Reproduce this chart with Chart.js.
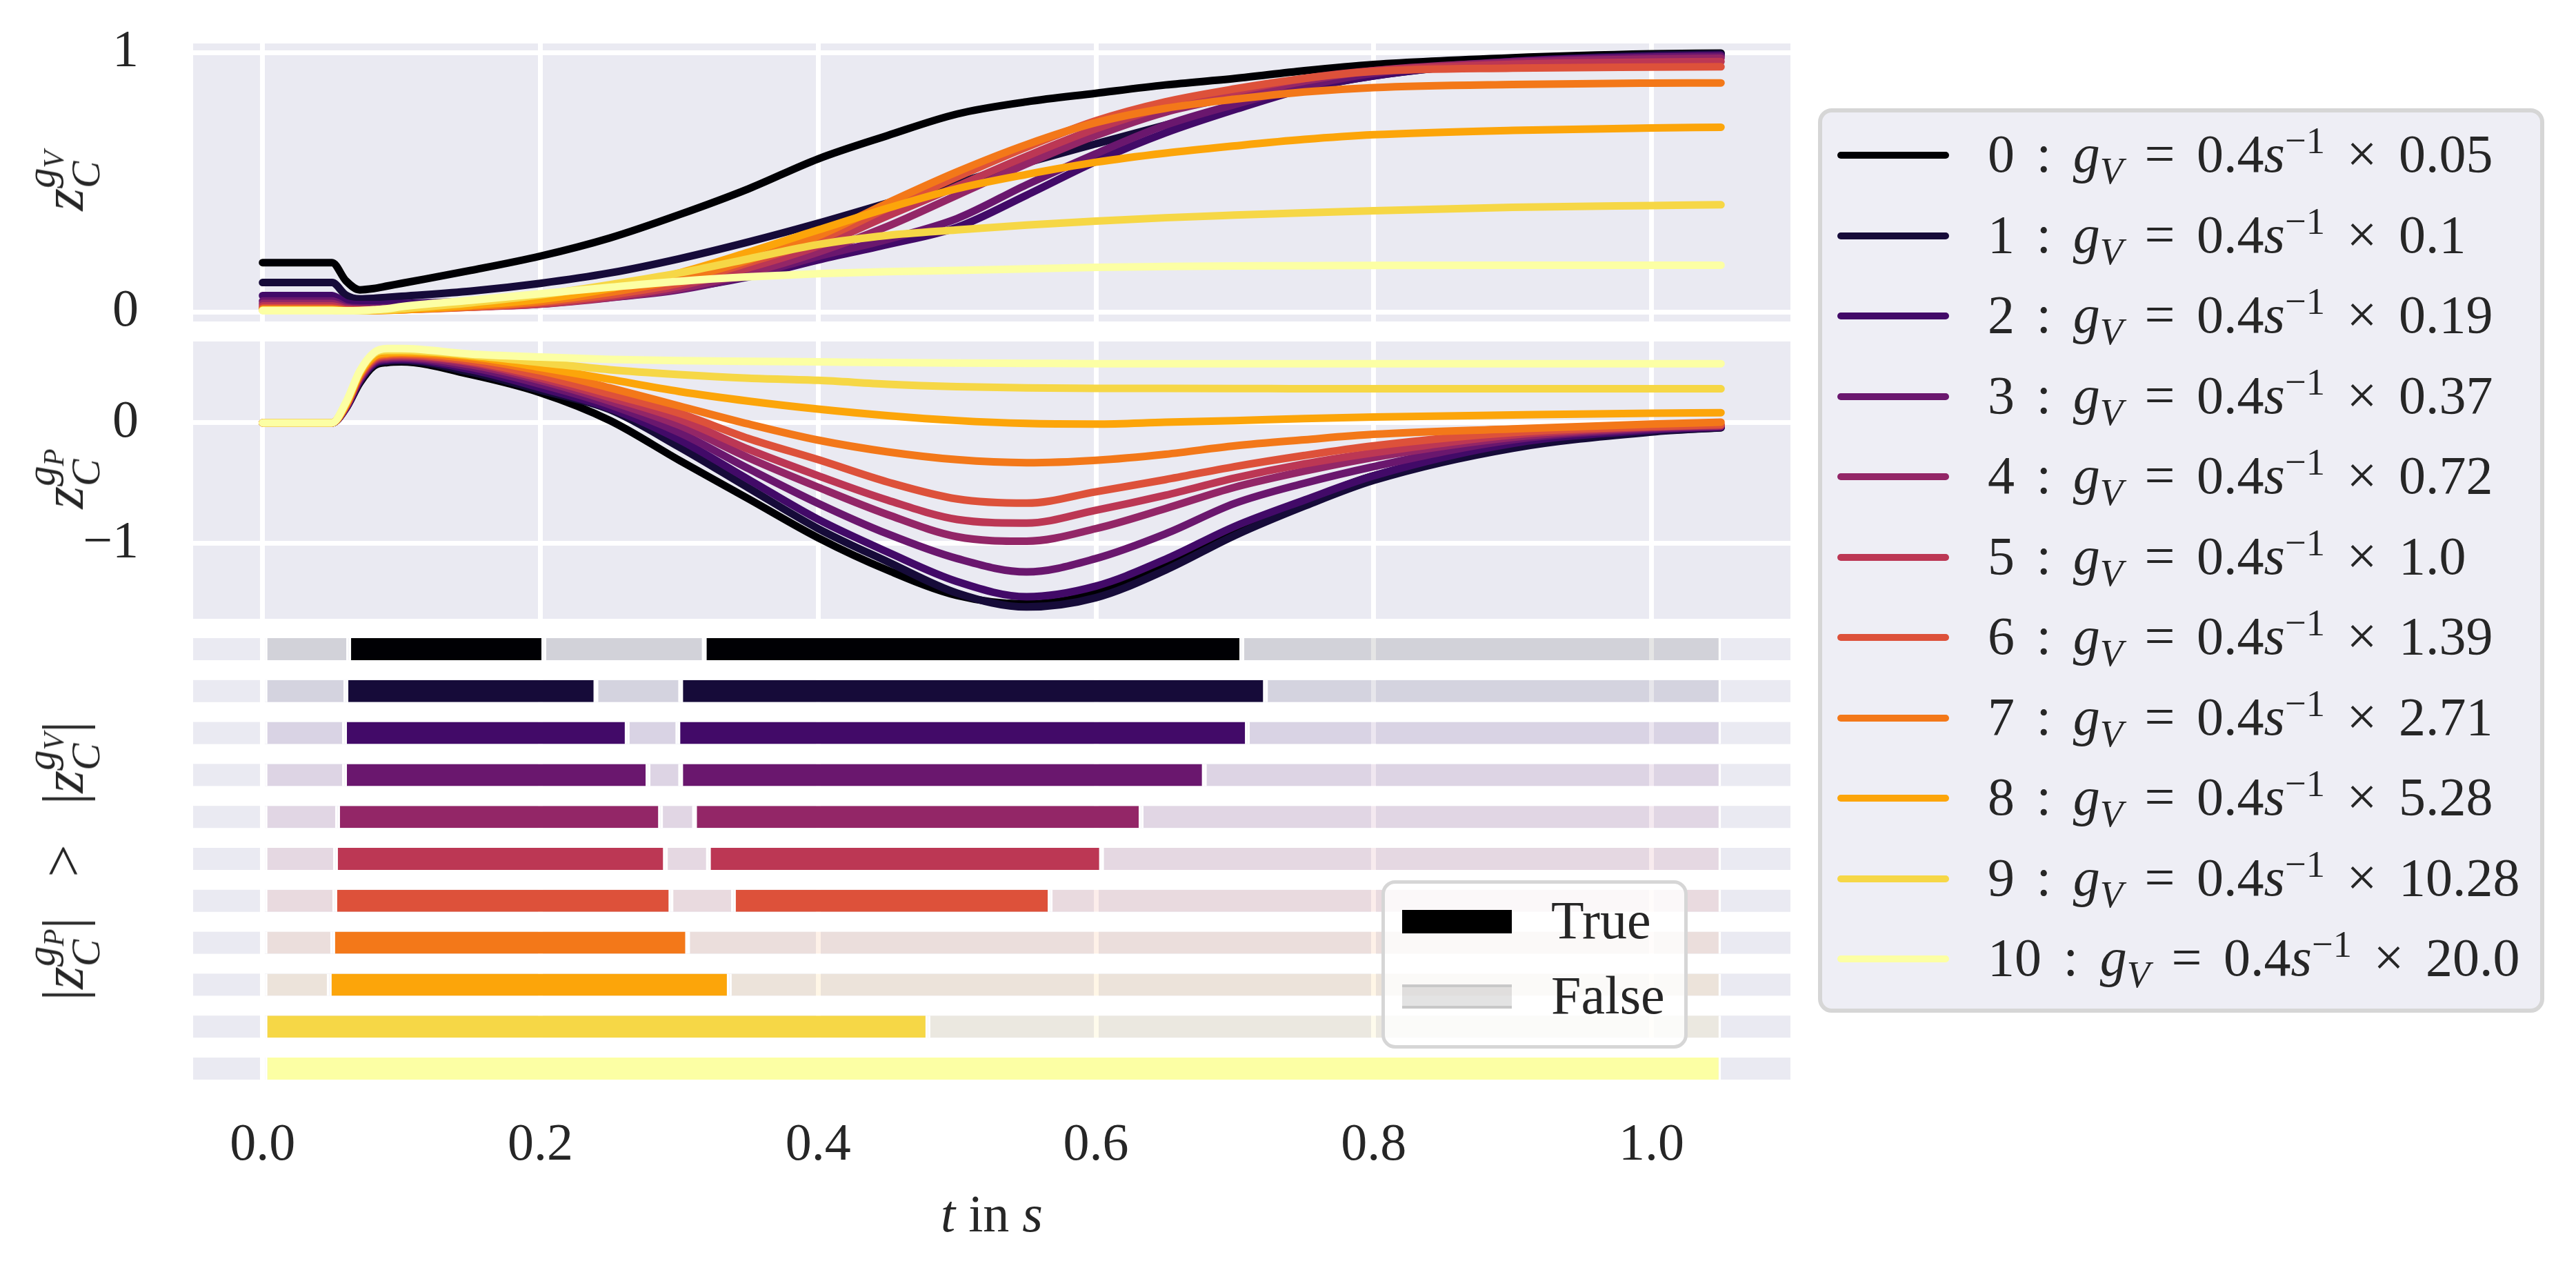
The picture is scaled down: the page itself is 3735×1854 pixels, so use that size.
<!DOCTYPE html>
<html lang="en">
<head>
<meta charset="UTF-8">
<title>z_C trajectories</title>
<script src="https://cdn.jsdelivr.net/npm/chart.js@4.4.1/dist/chart.umd.min.js"></script>
<style>
  html, body { margin:0; padding:0; background:#fff; }
  body { position:relative; width:3735px; height:1854px; overflow:hidden;
         font-family:"Liberation Serif", "DejaVu Serif", serif; color:#262626; }
  canvas { position:absolute; left:0; top:0; }
  .txt { position:absolute; white-space:nowrap; font-size:78px; line-height:84px; z-index:5; }
  .txt sub, .txt sup { line-height:0; font-size:0.7em; }
  .lab { font-size:84px; line-height:90px; }
  .rot { transform:translate(-50%,-50%) rotate(-90deg); }
  .scr { display:inline-block; vertical-align:-24px; font-size:0.7em; line-height:65px; text-align:left; }
  .scr > span { display:block; }
  .rel { margin:0 58px; }
  .box { position:absolute; box-sizing:border-box; border-radius:20px; z-index:4; }
  .swatch { position:absolute; z-index:5; }
</style>
</head>
<body>
<canvas id="cV" width="3735" height="1854"></canvas>
<canvas id="cP" width="3735" height="1854"></canvas>
<canvas id="cB" width="3735" height="1854"></canvas>

<script>
// sample times (s)
const T = [0, 0.05, 0.06, 0.07, 0.08, 0.09, 0.1, 0.15, 0.2, 0.25, 0.3, 0.35, 0.4, 0.45, 0.5, 0.55, 0.6, 0.65, 0.7, 0.75, 0.8, 0.9, 1.0, 1.05];

// z_C^{g_V}, one row per gain
const zV = [
  [0.19,0.19,0.12,0.085,0.09,0.1,0.11,0.16,0.215,0.285,0.375,0.475,0.59,0.68,0.763,0.81,0.843,0.875,0.9,0.93,0.954,0.98,0.995,0.998],
  [0.113,0.113,0.065,0.05,0.052,0.056,0.06,0.08,0.11,0.15,0.205,0.27,0.342,0.42,0.497,0.575,0.648,0.72,0.79,0.86,0.91,0.965,0.99,0.995],
  [0.063,0.063,0.035,0.028,0.028,0.03,0.032,0.04,0.05,0.065,0.09,0.135,0.2,0.26,0.326,0.45,0.58,0.69,0.78,0.86,0.91,0.965,0.985,0.99],
  [0.042,0.042,0.02,0.015,0.015,0.016,0.018,0.025,0.035,0.055,0.085,0.14,0.214,0.28,0.36,0.49,0.61,0.72,0.8,0.87,0.92,0.965,0.982,0.985],
  [0.032,0.032,0.015,0.01,0.01,0.011,0.012,0.02,0.03,0.055,0.09,0.15,0.23,0.33,0.45,0.57,0.68,0.77,0.83,0.89,0.93,0.962,0.975,0.978],
  [0.023,0.023,0.01,0.008,0.008,0.009,0.01,0.018,0.03,0.058,0.1,0.17,0.254,0.37,0.484,0.6,0.706,0.79,0.85,0.9,0.93,0.955,0.963,0.965],
  [0.015,0.015,0.007,0.006,0.006,0.007,0.008,0.018,0.035,0.065,0.11,0.19,0.276,0.4,0.52,0.635,0.737,0.81,0.86,0.9,0.927,0.94,0.944,0.945],
  [0.01,0.01,0.005,0.005,0.005,0.006,0.008,0.02,0.04,0.075,0.125,0.2,0.293,0.42,0.54,0.645,0.73,0.785,0.82,0.848,0.865,0.877,0.882,0.883],
  [0.008,0.008,0.004,0.004,0.005,0.006,0.008,0.025,0.048,0.09,0.15,0.23,0.316,0.4,0.475,0.53,0.577,0.612,0.64,0.665,0.683,0.7,0.709,0.712],
  [0.006,0.006,0.004,0.004,0.006,0.008,0.012,0.035,0.065,0.105,0.15,0.205,0.26,0.295,0.316,0.335,0.35,0.363,0.373,0.382,0.39,0.403,0.41,0.413],
  [0.005,0.005,0.004,0.005,0.008,0.012,0.02,0.045,0.07,0.095,0.118,0.135,0.147,0.155,0.16,0.166,0.172,0.175,0.177,0.178,0.179,0.18,0.18,0.18]
];

// z_C^{g_P}, one row per gain
const zP = [
  [0,0,0.12,0.33,0.47,0.5,0.505,0.4,0.25,0.02,-0.31,-0.63,-0.952,-1.22,-1.43,-1.5,-1.41,-1.16,-0.876,-0.65,-0.438,-0.2,-0.07,-0.04],
  [0,0,0.12,0.34,0.48,0.51,0.515,0.42,0.27,0.11,-0.2,-0.54,-0.876,-1.15,-1.41,-1.525,-1.448,-1.22,-0.933,-0.69,-0.476,-0.21,-0.076,-0.04],
  [0,0,0.12,0.35,0.49,0.52,0.525,0.44,0.29,0.12,-0.14,-0.47,-0.8,-1.07,-1.314,-1.44,-1.352,-1.13,-0.857,-0.64,-0.438,-0.17,-0.06,-0.035],
  [0,0,0.13,0.36,0.5,0.53,0.535,0.46,0.32,0.15,-0.08,-0.38,-0.667,-0.92,-1.124,-1.235,-1.124,-0.92,-0.667,-0.5,-0.362,-0.14,-0.05,-0.03],
  [0,0,0.13,0.37,0.51,0.54,0.545,0.48,0.35,0.18,-0.02,-0.29,-0.533,-0.76,-0.943,-0.98,-0.876,-0.71,-0.533,-0.4,-0.286,-0.12,-0.04,-0.025],
  [0,0,0.14,0.38,0.52,0.55,0.555,0.5,0.37,0.21,0.03,-0.22,-0.438,-0.64,-0.8,-0.83,-0.724,-0.6,-0.457,-0.34,-0.248,-0.1,-0.035,-0.02],
  [0,0,0.14,0.39,0.53,0.56,0.565,0.51,0.39,0.24,0.08,-0.13,-0.305,-0.49,-0.63,-0.665,-0.571,-0.47,-0.362,-0.27,-0.19,-0.08,-0.03,-0.015],
  [0,0,0.15,0.4,0.54,0.57,0.575,0.53,0.43,0.29,0.14,-0.01,-0.143,-0.24,-0.305,-0.33,-0.31,-0.26,-0.19,-0.14,-0.095,-0.05,-0.01,0.005],
  [0,0,0.15,0.41,0.55,0.58,0.585,0.55,0.46,0.36,0.26,0.18,0.114,0.06,0.019,-0.005,-0.01,0.005,0.019,0.035,0.048,0.065,0.08,0.084],
  [0,0,0.16,0.42,0.57,0.6,0.6,0.56,0.5,0.44,0.4,0.37,0.352,0.32,0.3,0.29,0.286,0.285,0.284,0.283,0.283,0.282,0.282,0.282],
  [0,0,0.17,0.43,0.58,0.615,0.615,0.57,0.545,0.525,0.515,0.51,0.505,0.5,0.496,0.493,0.49,0.49,0.49,0.49,0.49,0.49,0.49,0.49]
];

// |z_P| > |z_V| : times where the flag flips, and the flag at t = 0
const flipTimes = [
  [0.062, 0.2025, 0.318, 0.705],
  [0.06, 0.24, 0.301, 0.722],
  [0.059, 0.2625, 0.299, 0.709],
  [0.059, 0.2775, 0.301, 0.678],
  [0.054, 0.2865, 0.311, 0.6325],
  [0.0525, 0.29, 0.321, 0.604],
  [0.052, 0.294, 0.339, 0.567],
  [0.0505, 0.306],
  [0.048, 0.336],
  [0.479],
  []
];
const startsTrue = [false, false, false, false, false, false, false, false, false, true, true];
const tStart = 0, tEnd = 1.05;

const gainFactors = ['0.05', '0.1', '0.19', '0.37', '0.72', '1.0', '1.39', '2.71', '5.28', '10.28', '20.0'];
const colors = ['#000004', '#160b39', '#420a68', '#6a176e', '#932667', '#bc3754',
                '#dd513a', '#f37819', '#fca50a', '#f6d746', '#fcffa4'];

const xTicks = [0, 0.2, 0.4, 0.6, 0.8, 1.0];
const xTickLabels = ['0.0', '0.2', '0.4', '0.6', '0.8', '1.0'];
const zvTicks = [0, 1];
const zvTickLabels = ['0', '1'];
const zpTicks = [-1, 0];
const zpTickLabels = ['\u22121', '0'];

// ---------- layout (px) ----------
const X_MIN = -0.05, X_MAX = 1.1;
const PLOT_L = 280, PLOT_R = 2596, PAGE_W = 3735, PAGE_H = 1854;
const SHIFT = 80;   // top canvas is lifted so the y tick padding does not push the plot down
const FONT = '"Liberation Serif", "DejaVu Serif", serif';
const INK = '#262626', FACE = '#eaeaf2';

function fade(hex, a) {
  const n = parseInt(hex.slice(1), 16);
  return `rgba(${n >> 16},${(n >> 8) & 255},${n & 255},${a})`;
}

// lavender axes face (full area, or only behind each bar row)
const facePlugin = {
  id: 'face',
  beforeDraw(chart, args, opts) {
    const { ctx, chartArea: a } = chart;
    ctx.save();
    ctx.fillStyle = FACE;
    if (opts.rows) {
      const y = chart.scales.y;
      const step = (y.getPixelForValue(1) - y.getPixelForValue(0));
      const h = step * opts.frac;
      for (let i = 0; i < opts.rows; i++) {
        const yc = y.getPixelForValue(i);
        ctx.fillRect(a.left, yc - h / 2, a.width, h);
      }
    } else {
      ctx.fillRect(a.left, a.top, a.width, a.height);
    }
    ctx.restore();
  }
};

// nudge layout padding until the plot area sits where we want it
function fitArea(chart, pad, top, bottom) {
  for (let k = 0; k < 4; k++) {
    const a = chart.chartArea;
    pad.top += top - a.top;
    pad.bottom += a.bottom - bottom;
    chart.update();
  }
}

const whiteGrid = { color: '#ffffff', lineWidth: 7, drawTicks: false };

function xScale(showTicks) {
  return {
    type: 'linear', min: X_MIN, max: X_MAX,
    afterBuildTicks: s => { s.ticks = xTicks.map(v => ({ value: v })); },
    ticks: { display: showTicks, callback: (v, i) => xTickLabels[i],
             font: { family: FONT, size: 76 }, color: INK, padding: 36, maxRotation: 0 },
    grid: whiteGrid, border: { display: false }
  };
}

function lineChart(id, rows, yMin, yMax, ticks, labels, top, bottom, shift) {
  const cv = document.getElementById(id);
  cv.style.top = (-shift) + 'px';
  top += shift; bottom += shift;
  const pad = { left: 0, right: PAGE_W - PLOT_R, top: top, bottom: PAGE_H - bottom };
  const chart = new Chart(cv, {
    type: 'line',
    data: {
      datasets: rows.map((row, i) => ({
        data: row.map((v, k) => ({ x: T[k], y: v })),
        borderColor: colors[i], borderWidth: 11, pointRadius: 0, fill: false,
        cubicInterpolationMode: 'monotone', borderCapStyle: 'round', borderJoinStyle: 'round',
        order: colors.length - 1 - i
      }))
    },
    options: {
      responsive: false, animation: false, devicePixelRatio: 1,
      layout: { padding: pad },
      plugins: { legend: { display: false }, tooltip: { enabled: false }, face: {} },
      scales: {
        x: xScale(false),
        y: {
          min: yMin, max: yMax,
          afterBuildTicks: s => { s.ticks = ticks.map(v => ({ value: v })); },
          afterFit: s => { s.width = PLOT_L; },
          ticks: { callback: (v, i) => labels[i], font: { family: FONT, size: 76 }, color: INK, padding: 79 },
          grid: whiteGrid, border: { display: false }
        }
      }
    },
    plugins: [facePlugin]
  });
  fitArea(chart, pad, top, bottom);
  return chart;
}

lineChart('cV', zV, -0.037, 1.035, zvTicks, zvTickLabels, 63, 466, SHIFT);
lineChart('cP', zP, -1.623, 0.674, zpTicks, zpTickLabels, 495, 897, 0);

// ---------- bar rows ----------
const rowSegs = flipTimes.map((flips, r) => {
  const b = [tStart, ...flips, tEnd];
  let on = startsTrue[r];
  const segs = [];
  for (let k = 0; k < b.length - 1; k++) { segs.push({ from: b[k], to: b[k + 1], on }); on = !on; }
  return segs;
});
const maxSegs = Math.max(...rowSegs.map(s => s.length));
const barSets = [];
for (let k = 0; k < maxSegs; k++) {
  barSets.push({
    data: rowSegs.map(s => s[k] ? [s[k].from, s[k].to] : null),
    backgroundColor: rowSegs.map((s, r) => s[k] ? (s[k].on ? colors[r] : fade(colors[r], 0.1)) : 'rgba(0,0,0,0)'),
    borderColor: '#ffffff',
    borderWidth: { left: 3.5, right: 3.5, top: 0, bottom: 0 },
    borderSkipped: false,
    grouped: false, barPercentage: 0.526, categoryPercentage: 1
  });
}
const BAR_TOP = 910.6, BAR_BOTTOM = 1579.4, X_AXIS_H = 76 * 1.2 + 2 * 36;
const barPad = { left: PLOT_L, right: PAGE_W - PLOT_R, top: BAR_TOP, bottom: PAGE_H - BAR_BOTTOM - X_AXIS_H };
const barChart = new Chart(document.getElementById('cB'), {
  type: 'bar',
  data: { labels: colors.map((c, i) => String(i)), datasets: barSets },
  options: {
    indexAxis: 'y', responsive: false, animation: false, devicePixelRatio: 1,
    layout: { padding: barPad },
    plugins: { legend: { display: false }, tooltip: { enabled: false },
               face: { rows: colors.length, frac: 0.526 } },
    scales: {
      x: xScale(true),
      y: { type: 'category', display: false, offset: true }
    }
  },
  plugins: [facePlugin]
});
fitArea(barChart, barPad, BAR_TOP, BAR_BOTTOM);

// ---------- text overlays ----------
function addText(html, css, cls) {
  const d = document.createElement('div');
  d.className = 'txt' + (cls ? ' ' + cls : '');
  d.innerHTML = html;
  Object.assign(d.style, css);
  document.body.appendChild(d);
  return d;
}
const zSym = s => `<i>z</i><span class="scr"><span><i>g</i><sub><i>${s}</i></sub></span><span><i>C</i></span></span>`;

addText(zSym('V'), { left: '92px', top: '262px' }, 'lab rot');
addText(zSym('P'), { left: '92px', top: '694px' }, 'lab rot');
addText(`|${zSym('P')}|<span class="rel">&gt;</span>|${zSym('V')}|`, { left: '92px', top: '1248px' }, 'lab rot');
addText('<i>t</i> in <i>s</i>', { left: '1438px', top: '1717px', transform: 'translateX(-50%)', fontSize: '76px' });

// main legend
function addBox(x, y, w, h, bg, bw) {
  const d = document.createElement('div');
  d.className = 'box';
  Object.assign(d.style, { left: x + 'px', top: y + 'px', width: w + 'px', height: h + 'px',
                           background: bg, border: bw + 'px solid #d6d6d6' });
  document.body.appendChild(d);
}
function addSwatch(x, y, w, h, css) {
  const d = document.createElement('div');
  d.className = 'swatch';
  Object.assign(d.style, { left: x + 'px', top: y + 'px', width: w + 'px', height: h + 'px' }, css);
  document.body.appendChild(d);
}
addBox(2636, 157, 1053, 1311, 'rgba(234,234,242,0.8)', 6);
colors.forEach((c, i) => {
  const yc = 225 + i * 116.5;
  addSwatch(2664, yc - 5, 162, 10, { background: c, borderRadius: '5px' });
  addText(`${i} : <i>g</i><sub><i>V</i></sub> = 0.4<i>s</i><sup>\u22121</sup> \u00d7 ${gainFactors[i]}`,
          { left: '2882px', top: (yc - 44) + 'px', wordSpacing: '12px' });
});

// True / False legend
addBox(2003, 1276, 444, 244, 'rgba(255,255,255,0.8)', 5);
addSwatch(2033, 1319, 159, 34, { background: '#000000' });
addText('True', { left: '2249px', top: (1336 - 44) + 'px' });
addSwatch(2033, 1427, 159, 35, { background: 'rgba(0,0,0,0.11)', boxSizing: 'border-box',
                                 borderTop: '4px solid #c8c8c8', borderBottom: '4px solid #c8c8c8' });
addText('False', { left: '2249px', top: (1445 - 44) + 'px' });
</script>
</body>
</html>
